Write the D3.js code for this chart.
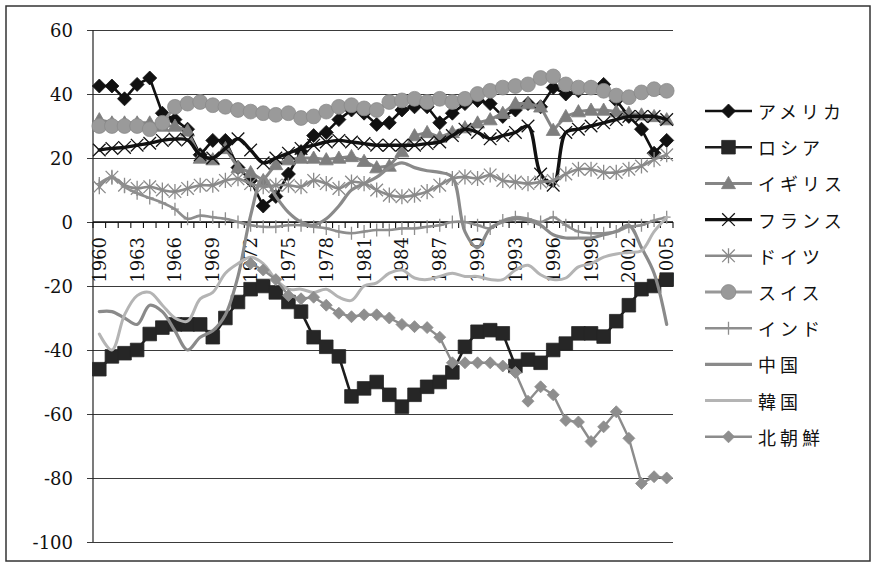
<!DOCTYPE html>
<html><head><meta charset="utf-8">
<script src="https://cdn.jsdelivr.net/npm/d3@7"></script>
<style>body{margin:0;background:#fff}</style>
</head><body>
<svg id="chart" width="874" height="565"></svg>
<script>
// ---------- data ----------
const years = [1960,1961,1962,1963,1964,1965,1966,1967,1968,1969,
               1970,1971,1972,1973,1974,1975,1976,1977,1978,1979,
               1980,1981,1982,1983,1984,1985,1986,1987,1988,1989,
               1990,1991,1992,1993,1994,1995,1996,1997,1998,1999,
               2000,2001,2002,2003,2004,2005];
const yearLabels = [1960,1963,1966,1969,1972,1975,1978,1981,1984,1987,1990,1993,1996,1999,2002,2005];
const yTickValues = [60,40,20,0,-20,-40,-60,-80,-100];
const seriesNames = ["アメリカ","ロシア","イギリス","フランス","ドイツ","スイス","インド","中国","韓国","北朝鮮"];

const usa = [42.5,42.5,38.5,43,45,34,32,29,21,25.5,
             25.5,17,13,5,8,15,22,27,28,32,
             35,34,30.5,31,35,36,36,31,34,37,
             38,37,33,35,37,36,42,40,41,42,
             43,38,33,29,21.5,25.5];
const russia = [-46,-42,-41,-40,-35,-33,-32,-32,-32,-36,
                -30,-25,-21,-20,-22,-25,-28,-36,-39,-42,
                -54.5,-52,-50,-54,-57.7,-54,-51.5,-50,-47,-39,
                -34.3,-33.8,-34.8,-45,-43,-44,-40,-38,-34.8,-34.8,
                -35.8,-31,-26,-21,-20,-18];
const uk = [32,31,31,31,31,30,30,28.5,20,19.5,
            23,17,15.5,13,18,19.5,20,20,19.5,20,
            20.5,19,17,17.5,22,27,28,26.5,28,29.5,
            31,32,34,37,37,36,28.7,33,34.5,35,
            35,34.5,34,33.5,33,32];
const france = [22.5,23,23.3,24,24.6,25.5,25.9,25.6,21,20,
                23,26,22.5,18.5,20,21.5,23,24,25,25.5,
                25,24.5,24,24,24,24,24.5,25,27,29,
                28,26,27,28,30,15,11.5,28,29,30,
                31,32,33,33,33,32];
const germany = [11,14,11.5,10.5,11,10,9.5,10.5,11.5,11.5,
                 13,13.5,12,11,11.5,11.5,11,13,12,10.5,
                 12.5,12,10,8.4,7.9,8.4,9.5,11.5,13.6,14.1,
                 13.6,14.7,13,12.5,12,12.5,13,15,16.5,16.5,
                 15.5,15.5,16.5,17.5,19.5,21];
const swiss = [30,30,30,30,29,31,36,37,37.5,36.5,
               36,35,34.5,34,33.5,34,32.5,33,34.5,36,
               36.5,35.5,35,37.5,38,38.5,37.5,38.5,37.5,38.5,
               40,41,42,42.5,43,45,45.5,43,42,42,
               41,39.5,39,40.5,41.5,41];
const india = [12,14,11,9,7.5,6,4,1,2,1.5,
               1,0,-1,-1.5,-1.5,-1,-1,-1.5,-2,-3,
               -3.5,-3,-2.5,-2.5,-2,-2,-1.5,-1,0,0,
               -1,-2,0.5,1.5,1,0,1.5,-1,-3,-3.5,
               -3.5,-3,-1.5,-1,0.5,1.5];
const china = [-28,-28,-30,-32,-26,-28,-34,-40,-36,-34,
               -29,-17,2,14,8,3,0,-1,1,5,
               10,12,14,17,18.5,17,16,15.5,14,-3,
               -8,-2,0,1,0.5,-1,-4,-5,-5,-5,
               -4,-3,-1,-8,-16,-32];
const korea = [-35,-40,-29,-23,-22,-26,-30,-31,-24,-22,
               -16,-13,-11,-13,-18,-21,-21,-22,-21,-23.5,
               -24.5,-20,-19,-16,-15,-17.5,-18,-17,-16,-17,
               -17,-18,-18,-15,-13.5,-16.5,-18,-17.5,-14,-13,
               -11,-10,-9.5,-9,-3,1.5];
const nkorea = [null,null,null,null,null,null,null,null,null,null,
                null,null,-13,-15,-18,-23,-24,-23.5,-26,-28.5,
                -29.6,-29,-29,-30,-32,-32.7,-33,-36,-44,-44,
                -44,-44,-45,-47,-56,-51.5,-54,-62,-62.5,-68.6,
                -64,-59.3,-67.6,-81.7,-79.6,-80];

const seriesValues = [usa, russia, uk, france, germany, swiss, india, china, korea, nkorea];

// ---------- styles ----------
const styles = [
  {color:"#111", width:2.6, marker:"diamond", mfill:"#111", r:7, curve:false},
  {color:"#1c1c1c", width:2.6, marker:"square", mfill:"#262626", r:6.8, curve:false},
  {color:"#858585", width:3, marker:"triangle", mfill:"#7e7e7e", r:7, curve:false},
  {color:"#111", width:3.4, marker:"times", mfill:"none", r:6.3, curve:true},
  {color:"#8a8a8a", width:2.6, marker:"asterisk", mfill:"none", r:6.3, curve:true},
  {color:"#989898", width:3, marker:"circle", mfill:"#9a9a9a", r:7.4, curve:false},
  {color:"#8e8e8e", width:2.6, marker:"plus", mfill:"none", r:6.5, curve:true},
  {color:"#8a8a8a", width:3.2, marker:"none", mfill:"none", r:0, curve:true},
  {color:"#b4b4b4", width:3, marker:"none", mfill:"none", r:0, curve:true},
  {color:"#8c8c8c", width:2.4, marker:"diamond", mfill:"#8e8e8e", r:6, curve:false}
];

const svg = d3.select("#chart");
const W = 874, H = 565;
const plot = {left:93, right:673, top:30, bottom:542};

svg.append("rect").attr("x",0).attr("y",0).attr("width",W).attr("height",H).attr("fill","#fff");
svg.append("rect").attr("x",6).attr("y",6).attr("width",864).attr("height",555)
   .attr("fill","none").attr("stroke","#333").attr("stroke-width",1.5);

const x = d3.scaleBand().domain(years).range([plot.left, plot.right]).padding(0);
const cx = d => x(d) + x.bandwidth()/2;
const y = d3.scaleLinear().domain([-100,60]).range([plot.bottom, plot.top]);

// gridlines
const gy = svg.append("g").attr("transform", `translate(${plot.right},0)`);
gy.call(d3.axisLeft(y).tickValues(yTickValues).tickSize(plot.right - plot.left + 6).tickFormat(""));
gy.select(".domain").remove();
gy.selectAll(".tick line").attr("stroke","#3a3a3a").attr("stroke-width",1);

// y labels
svg.selectAll(".ylab").data(yTickValues).join("text")
  .attr("class","ylab")
  .attr("x", 73).attr("y", d => y(d))
  .attr("text-anchor","end").attr("dominant-baseline","central")
  .attr("font-family","'DejaVu Serif', serif").attr("font-size",18).attr("fill","#111")
  .text(d => String(d));

// y axis line
svg.append("line").attr("x1",plot.left).attr("x2",plot.left)
  .attr("y1",y(60)).attr("y2",y(-100)).attr("stroke","#222").attr("stroke-width",1.2);

// x axis at 0 with boundary ticks
const gx = svg.append("g");
gx.append("line").attr("x1",plot.left).attr("x2",plot.right)
  .attr("y1",y(0)).attr("y2",y(0)).attr("stroke","#111").attr("stroke-width",1.3);
const boundaries = years.map(d => x(d)).concat([plot.right]);
gx.selectAll(".xt").data(boundaries).join("line").attr("class","xt")
  .attr("x1",d=>d).attr("x2",d=>d).attr("y1",y(0)).attr("y2",y(0)+6)
  .attr("stroke","#111").attr("stroke-width",1.1);
gx.selectAll(".xl").data(yearLabels).join("text").attr("class","xl")
  .attr("transform", d => `translate(${cx(d)},${y(0)+15}) rotate(-90)`)
  .attr("text-anchor","end").attr("dy","0.36em")
  .attr("font-family","'DejaVu Serif', serif").attr("font-size",18).attr("fill","#111")
  .text(d => String(d));

// marker paths
function markerPath(type, r){
  switch(type){
    case "diamond": return `M0,${-r}L${r},0L0,${r}L${-r},0Z`;
    case "square": return `M${-r},${-r}H${r}V${r}H${-r}Z`;
    case "triangle": return `M0,${-r}L${r},${r*0.75}L${-r},${r*0.75}Z`;
    case "times": return `M${-r},${-r}L${r},${r}M${r},${-r}L${-r},${r}`;
    case "asterisk": return `M${-r},${-r}L${r},${r}M${r},${-r}L${-r},${r}M0,${-r*1.2}L0,${r*1.2}`;
    case "plus": return `M0,${-r}L0,${r}M${-r*0.6},0L${r*0.6},0`;
    default: return "";
  }
}
function drawMarker(g, st){
  if(st.marker === "none") return;
  if(st.marker === "circle"){
    g.append("circle").attr("r",st.r).attr("fill",st.mfill).attr("stroke","#8a8a8a").attr("stroke-width",0.8);
    return;
  }
  const p = g.append("path").attr("d", markerPath(st.marker, st.r));
  if(st.mfill !== "none"){
    p.attr("fill", st.mfill).attr("stroke", st.mfill).attr("stroke-width",0.8);
  } else {
    p.attr("fill","none").attr("stroke", st.color).attr("stroke-width",1.3);
  }
}

// series
seriesValues.forEach((vals, i) => {
  const st = styles[i];
  const pts = years.map((yr, j) => ({yr, v: vals[j]})).filter(p => p.v !== null);
  const line = d3.line().x(p => cx(p.yr)).y(p => y(p.v));
  if(st.curve) line.curve(d3.curveCatmullRom.alpha(0.5));
  const g = svg.append("g").attr("class","series s"+i);
  g.append("path").datum(pts).attr("d", line)
    .attr("fill","none").attr("stroke", st.color).attr("stroke-width", st.width)
    .attr("stroke-linejoin","round").attr("stroke-linecap","round");
  pts.forEach(p => {
    const mg = g.append("g").attr("transform", `translate(${cx(p.yr)},${y(p.v)})`);
    drawMarker(mg, st);
  });
});

// legend
const legendTop = 111, legendStep = 36.2;
seriesNames.forEach((name, i) => {
  const st = styles[i];
  const ly = legendTop + i*legendStep;
  const lg = svg.append("g").attr("class","legend");
  lg.append("line").attr("x1",705).attr("x2",752).attr("y1",ly).attr("y2",ly)
    .attr("stroke", st.color).attr("stroke-width", st.width);
  const mg = lg.append("g").attr("transform", `translate(728.5,${ly})`);
  drawMarker(mg, st);
  lg.append("text").attr("x",758).attr("y",ly)
    .attr("dominant-baseline","central")
    .attr("font-family","'Noto Sans CJK JP', sans-serif").attr("font-size",18)
    .attr("letter-spacing","4px").attr("fill","#111")
    .text(name);
});
</script>
</body></html>
